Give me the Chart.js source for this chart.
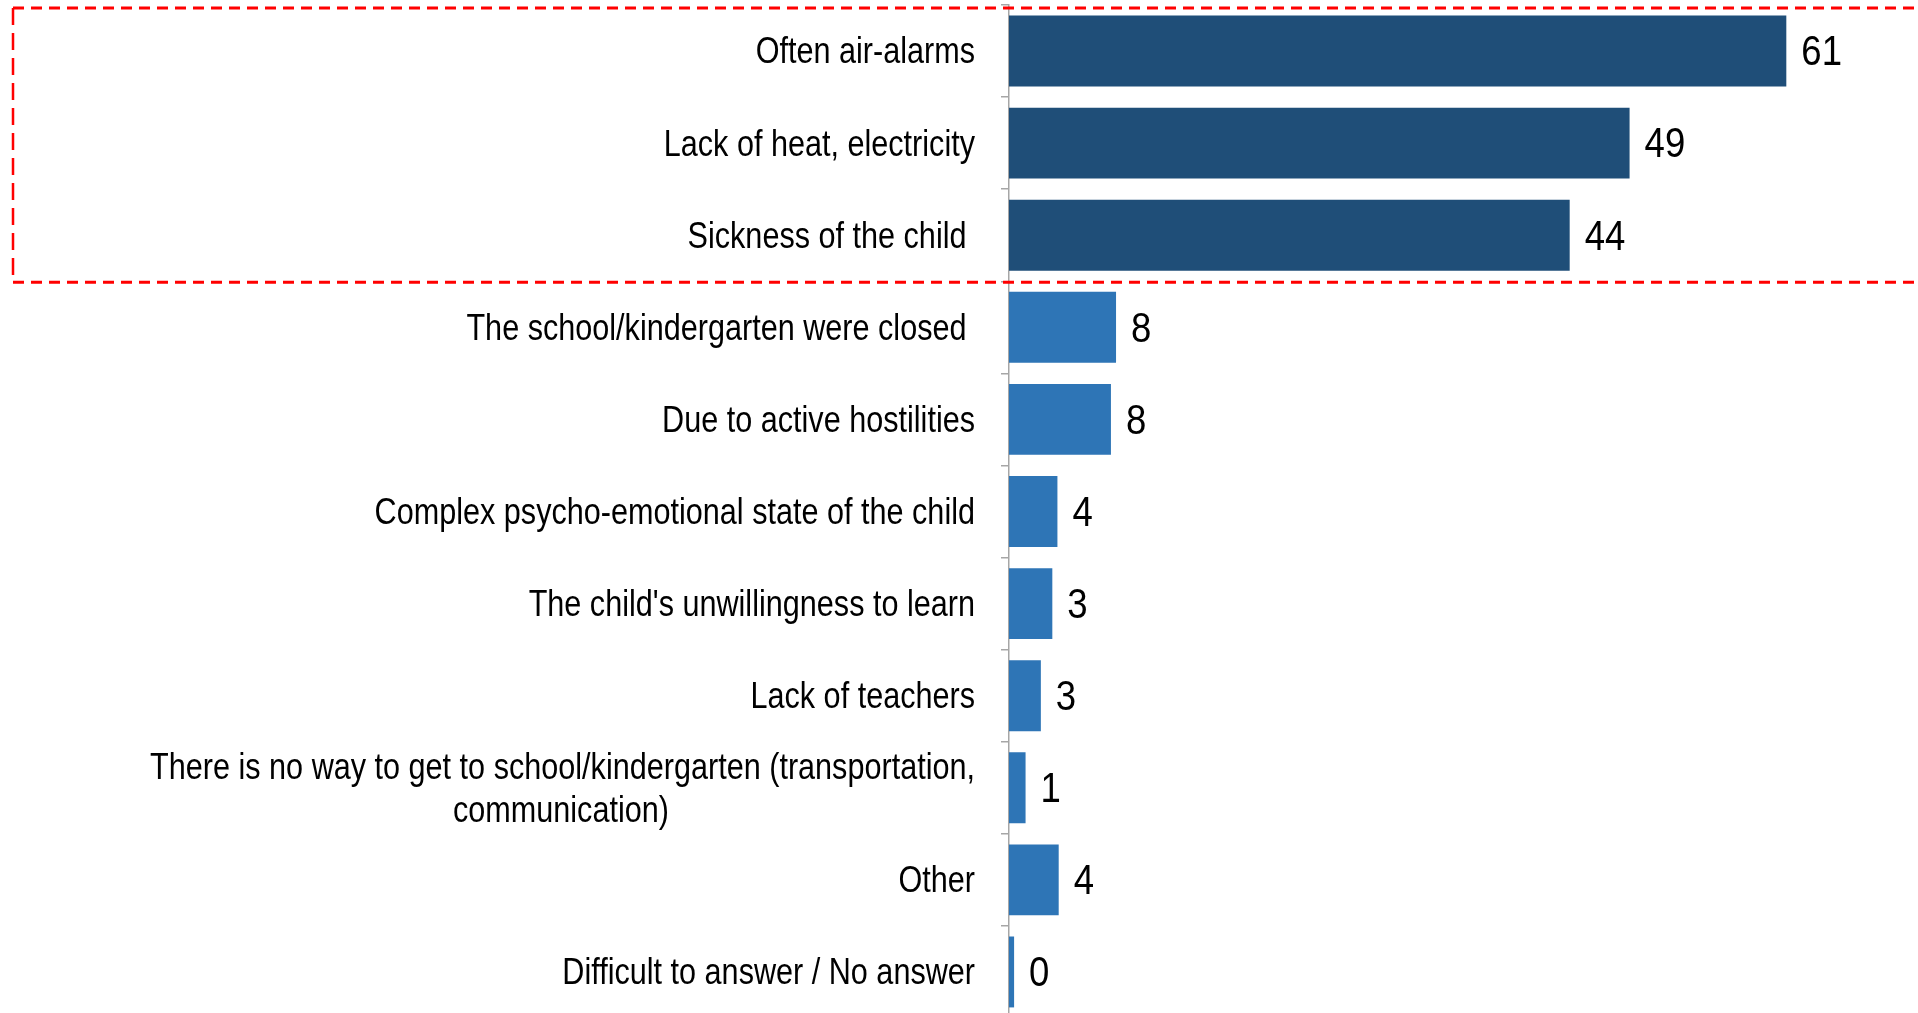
<!DOCTYPE html>
<html>
<head>
<meta charset="utf-8">
<script src="https://cdn.jsdelivr.net/npm/chart.js@4.4.1/dist/chart.umd.min.js"></script>
<style>
  html, body { margin: 0; padding: 0; background: #fff; overflow: hidden; }
  #wrap { width: 1918px; height: 1018px; position: relative; }
</style>
</head>
<body>
<div id="wrap"><canvas id="chart"></canvas></div>
<script>
// reasons, top to bottom
const categories = [
    'Often air-alarms',
    'Lack of heat, electricity',
    'Sickness of the child ',
    'The school/kindergarten were closed ',
    'Due to active hostilities',
    'Complex psycho-emotional state of the child',
    "The child's unwillingness to learn",
    'Lack of teachers',
    ['There is no way to get to school/kindergarten (transportation,', 'communication)'],
    'Other',
    'Difficult to answer / No answer'
];
const values = [61, 48.7, 44, 8.4, 8, 3.8, 3.4, 2.5, 1.3, 3.9, 0.4];
const valueLabels = [61, 49, 44, 8, 8, 4, 3, 3, 1, 4, 0];
const highlightCount = 3;

const FONT_FAMILY = '"Liberation Sans", Arial, sans-serif';
const labelFont = { family: FONT_FAMILY, size: 36 };
const valueFont = { family: FONT_FAMILY, size: 43 };
// the original uses a narrow face; squeeze the regular one horizontally
const NARROW = 0.85;

// pad shorter lines of a multi-line label so they sit centred under the longest one
function centerLines(lines) {
    const ctx = document.createElement('canvas').getContext('2d');
    ctx.font = `${labelFont.size}px ${labelFont.family}`;
    const widest = Math.max(...lines.map(l => ctx.measureText(l).width));
    const space = ctx.measureText(' ').width;
    return lines.map(l => {
        const n = Math.round((widest - ctx.measureText(l).width) / 2 / space);
        return l + ' '.repeat(Math.max(0, n));
    });
}

const tickLabels = categories.map(c => Array.isArray(c) ? centerLines(c) : c);

class NarrowCategoryScale extends Chart.CategoryScale {
    static id = 'narrowCategory';
    drawLabels(chartArea) {
        const ctx = this.ctx;
        const x0 = this.right - this.options.grid.tickLength - this.options.ticks.padding;
        ctx.save();
        ctx.translate(x0, 2.5);
        ctx.scale(NARROW, 1);
        ctx.translate(-x0, 0);
        super.drawLabels(chartArea);
        ctx.restore();
    }
}
Chart.register(NarrowCategoryScale);

const valueLabelPlugin = {
    id: 'valueLabels',
    afterDatasetsDraw(chart) {
        const ctx = chart.ctx;
        const meta = chart.getDatasetMeta(0);
        ctx.font = `${valueFont.size}px ${valueFont.family}`;
        ctx.fillStyle = '#000';
        ctx.textAlign = 'left';
        ctx.textBaseline = 'middle';
        meta.data.forEach((bar, i) => {
            ctx.save();
            ctx.translate(bar.x + 15, bar.y + 2.5);
            ctx.scale(NARROW, 1);
            ctx.fillText(String(valueLabels[i]), 0, 0);
            ctx.restore();
        });
    }
};

const highlightBoxPlugin = {
    id: 'highlightBox',
    afterDraw(chart) {
        const ctx = chart.ctx;
        const y = chart.scales.y;
        const half = (y.getPixelForValue(1) - y.getPixelForValue(0)) / 2;
        const top = y.getPixelForValue(0) - half + 3;
        const bottom = y.getPixelForValue(highlightCount - 1) + half + 1;
        const left = 13;
        const right = chart.width + 5;
        ctx.save();
        ctx.strokeStyle = '#FF0000';
        ctx.lineWidth = 3;
        ctx.setLineDash([11, 7]);
        ctx.beginPath();
        ctx.moveTo(left, top);
        ctx.lineTo(right, top);
        ctx.moveTo(left, bottom);
        ctx.lineTo(right, bottom);
        ctx.stroke();
        ctx.lineWidth = 2.5;
        ctx.setLineDash([17, 8]);
        ctx.beginPath();
        ctx.moveTo(left, top);
        ctx.lineTo(left, bottom);
        ctx.stroke();
        ctx.restore();
    }
};

new Chart(document.getElementById('chart'), {
    type: 'bar',
    data: {
        labels: tickLabels,
        datasets: [{
            data: values,
            backgroundColor: values.map((v, i) => i < highlightCount ? '#1F4E78' : '#2E75B6'),
            borderWidth: 0,
            categoryPercentage: 1,
            barPercentage: 0.77
        }]
    },
    options: {
        indexAxis: 'y',
        responsive: true,
        maintainAspectRatio: false,
        animation: false,
        layout: { padding: { top: 5, right: 17, bottom: 0, left: 0 } },
        plugins: {
            legend: { display: false },
            tooltip: { enabled: false }
        },
        scales: {
            x: {
                display: false,
                min: 0,
                max: 70
            },
            y: {
                type: 'narrowCategory',
                offset: true,
                afterFit(scale) {
                    scale.width = 1009;
                    scale.paddingTop = 0;
                    scale.paddingBottom = 0;
                },
                border: { display: true, color: '#A6A6A6', width: 1.5 },
                grid: {
                    display: true,
                    offset: true,
                    drawOnChartArea: false,
                    drawTicks: true,
                    tickLength: 8,
                    color: '#A6A6A6',
                    lineWidth: 1.5
                },
                ticks: {
                    autoSkip: false,
                    color: '#000',
                    padding: 26,
                    font: labelFont
                }
            }
        }
    },
    plugins: [valueLabelPlugin, highlightBoxPlugin]
});
</script>
</body>
</html>
